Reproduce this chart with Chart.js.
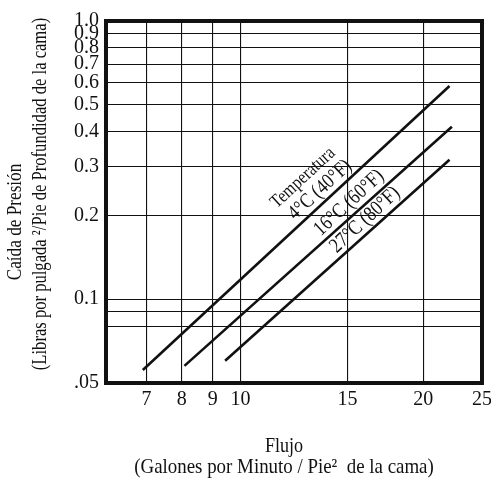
<!DOCTYPE html>
<html>
<head>
<meta charset="utf-8">
<script src="https://cdn.jsdelivr.net/npm/chart.js@4.4.1/dist/chart.umd.min.js"></script>
<style>
    html, body { margin: 0; padding: 0; background: #fff; }
</style>
</head>
<body>
<canvas id="chart" width="491" height="478"></canvas>
<script>
// ── Data ─────────────────────────────────────────────────────────────────────

const FLOW_4C = [6.9, 22.1];
const DROP_4C = [0.0557, 0.584];
const FLOW_16C = [8.08, 22.3];
const DROP_16C = [0.0576, 0.417];
const FLOW_27C = [9.43, 22.1];
const DROP_27C = [0.0601, 0.317];

const X_TICKS = [6, 7, 8, 9, 10, 15, 20, 25];
const X_LABELS = ['', '7', '8', '9', '10', '15', '20', '25'];
const Y_TICKS = [0.05, 0.08, 0.09, 0.1, 0.2, 0.3, 0.4, 0.5, 0.6, 0.7, 0.8, 0.9, 1.0];
const Y_LABELS = ['.05', '', '', '0.1', '0.2', '0.3', '0.4', '0.5', '0.6', '0.7', '0.8', '0.9', '1.0'];

// curve captions, anchored in data units
const CAPTIONS = ['Temperatura', '4°C (40°F)', '16°C (60°F)', '27°C (80°F)'];
const CAPTION_X = [12.67, 13.52, 15.09, 16.04];
const CAPTION_Y = [0.273, 0.247, 0.222, 0.193];

const SERIF = '"Liberation Serif", "DejaVu Serif", serif';

function toPoints(xs, ys) {
    return xs.map((x, i) => ({ x, y: ys[i] }));
}

function lineSet(xs, ys) {
    return {
        data: toPoints(xs, ys),
        borderColor: '#111',
        borderWidth: 2.6,
        pointRadius: 0,
        tension: 0,
        fill: false,
    };
}

// squeezed serif text, to get close to the narrow face of the original
function drawText(ctx, text, x, y, angle, size, squeeze) {
    ctx.save();
    ctx.translate(x, y);
    ctx.rotate(angle);
    ctx.scale(squeeze, 1);
    ctx.font = `${size}px ${SERIF}`;
    ctx.fillStyle = '#111';
    ctx.textAlign = 'center';
    ctx.textBaseline = 'middle';
    ctx.fillText(text, 0, 0);
    ctx.restore();
}

// ── Plugins ──────────────────────────────────────────────────────────────────

const frame = {
    id: 'frame',
    afterDatasetsDraw(chart) {
        const { ctx, chartArea: a } = chart;
        ctx.save();
        ctx.strokeStyle = '#111';
        ctx.lineWidth = 4;
        ctx.strokeRect(a.left, a.top, a.right - a.left, a.bottom - a.top);
        ctx.restore();
    },
};

const captions = {
    id: 'captions',
    afterDatasetsDraw(chart) {
        const { ctx, scales: { x, y } } = chart;
        // tilt the captions along the 4°C curve
        const x0 = x.getPixelForValue(FLOW_4C[0]), y0 = y.getPixelForValue(DROP_4C[0]);
        const x1 = x.getPixelForValue(FLOW_4C[1]), y1 = y.getPixelForValue(DROP_4C[1]);
        const angle = Math.atan2(y1 - y0, x1 - x0);

        CAPTIONS.forEach((text, i) => {
            const px = x.getPixelForValue(CAPTION_X[i]);
            const py = y.getPixelForValue(CAPTION_Y[i]);
            drawText(ctx, text, px, py, angle, i === 0 ? 19 : 21, 0.84);
        });
    },
};

const axisTitles = {
    id: 'axisTitles',
    afterDraw(chart) {
        const { ctx } = chart;
        drawText(ctx, 'Flujo', 284, 446, 0, 21, 0.86);
        drawText(ctx, '(Galones por Minuto / Pie²  de la cama)', 284, 467, 0, 21, 0.9);
        drawText(ctx, 'Caída de Presión', 15, 222, -Math.PI / 2, 21, 0.82);
        drawText(ctx, '(Libras por pulgada ²/Pie de Profundidad de la cama)', 40, 194, -Math.PI / 2, 21, 0.79);
    },
};

// ── Chart ────────────────────────────────────────────────────────────────────

new Chart(document.getElementById('chart'), {
    type: 'line',
    data: {
        datasets: [
            lineSet(FLOW_4C, DROP_4C),
            lineSet(FLOW_16C, DROP_16C),
            lineSet(FLOW_27C, DROP_27C),
        ],
    },
    options: {
        responsive: false,
        devicePixelRatio: 1,
        animation: false,
        layout: { padding: { top: 21, right: 9, left: 0, bottom: 0 } },
        plugins: {
            legend: { display: false },
            tooltip: { enabled: false },
        },
        scales: {
            x: {
                type: 'logarithmic',
                min: 6,
                max: 25,
                afterBuildTicks: s => { s.ticks = X_TICKS.map(value => ({ value })); },
                afterFit: s => {
                    s.height = 95;
                    s.paddingLeft = 0;
                    s.paddingRight = 0;
                },
                ticks: {
                    autoSkip: false,
                    maxRotation: 0,
                    padding: 5,
                    color: '#111',
                    font: { family: SERIF, size: 20 },
                    callback: (v, i) => X_LABELS[i],
                },
                grid: { color: '#111', lineWidth: 1.1, drawTicks: false },
                border: { display: false },
            },
            y: {
                type: 'logarithmic',
                min: 0.05,
                max: 1,
                afterBuildTicks: s => { s.ticks = Y_TICKS.map(value => ({ value })); },
                afterFit: s => {
                    s.width = 106;
                    s.paddingTop = 0;
                    s.paddingBottom = 0;
                },
                ticks: {
                    autoSkip: false,
                    padding: 7,
                    color: '#111',
                    font: { family: SERIF, size: 20 },
                    callback: (v, i) => Y_LABELS[i],
                },
                grid: { color: '#111', lineWidth: 1.1, drawTicks: false },
                border: { display: false },
            },
        },
    },
    plugins: [frame, captions, axisTitles],
});
</script>
</body>
</html>
